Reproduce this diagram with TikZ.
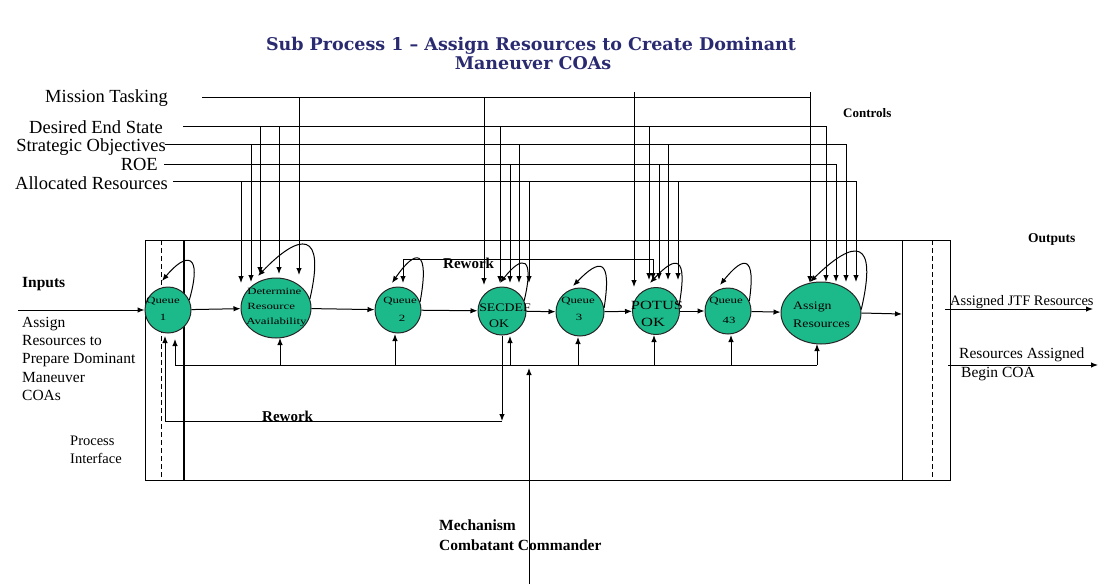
\documentclass[tikz,border=0pt]{standalone}
\usepackage{fontspec}
\setmainfont{Liberation Serif}
\newfontfamily\titlefont{DejaVu Serif}
\usetikzlibrary{arrows.meta,shapes.geometric}
\definecolor{procgreen}{RGB}{28,186,138}
\definecolor{titlenavy}{RGB}{42,42,112}
\begin{document}
\begin{tikzpicture}[x=1pt,y=-1pt,
  ln/.style={line width=1pt},
  arr/.style={line width=1pt,-{Latex[length=7pt,width=5.5pt]}},
  dsh/.style={line width=1pt,dash pattern=on 5pt off 3pt},
  proc/.style={circle,draw=black!85,fill=procgreen,line width=1pt,minimum size=46pt,inner sep=0pt},
  bigproc/.style={ellipse,draw=black!85,fill=procgreen,line width=1pt,inner sep=0pt},
  ctl/.style={font=\fontsize{18.5}{20}\selectfont,anchor=base east,inner sep=0pt},
  txt/.style={font=\fontsize{14.5}{16}\selectfont,anchor=base west,inner sep=0pt},
  txtb/.style={font=\fontsize{15.5}{17}\selectfont,anchor=base west,inner sep=0pt},
  boldlab/.style={font=\bfseries\fontsize{13}{14}\selectfont,anchor=base west,inner sep=0pt},
  boldbig/.style={font=\bfseries\fontsize{15.5}{17}\selectfont,anchor=base west,inner sep=0pt},
  ttl/.style={font=\titlefont\bfseries\fontsize{17.5}{19}\selectfont,text=titlenavy,anchor=base,inner sep=0pt},
  qlab/.style={font=\fontsize{9.5}{10}\selectfont,xscale=1.35,inner sep=0pt,anchor=base},
  dlab/.style={font=\fontsize{9.5}{10}\selectfont,xscale=1.35,inner sep=0pt,anchor=base west},
  blab/.style={font=\fontsize{11.5}{12}\selectfont,xscale=1.2,inner sep=0pt,anchor=base}
]
\useasboundingbox (0,0) rectangle (1109,584);

% title
\node[ttl] (t1) at (531,50) {Sub Process 1 – Assign Resources to Create Dominant};
\node[ttl] (t2) at (533,69) {Maneuver COAs};

% control labels
\node[ctl] (cMT) at (168,102) {Mission Tasking};
\node[ctl] (cDE) at (163,133) {Desired End State};
\node[ctl] (cSO) at (166,151) {Strategic Objectives};
\node[ctl] (cRO) at (158,170) {ROE};
\node[ctl] (cAR) at (168,189) {Allocated Resources};
\node[boldlab] (ctrl) at (843,117) {Controls};

% control lines
\coordinate (mtS) at (202,97);  \coordinate (mtE) at (810,97);
\coordinate (deS) at (183,126); \coordinate (deE) at (826,126);
\coordinate (soS) at (165,144); \coordinate (soE) at (846,144);
\coordinate (roS) at (164,164); \coordinate (roE) at (836,164);
\coordinate (arS) at (173,181); \coordinate (arE) at (856,181);
\draw[ln] (mtS) -- (mtE);
\draw[ln] (deS) -- (deE);
\draw[ln] (soS) -- (soE);
\draw[ln] (roS) -- (roE);
\draw[ln] (arS) -- (arE);
\foreach \x/\y/\t in {299/97/275, 279/126/274, 260/126/274, 251/144/282, 241/181/283,
  484/97/285, 500/126/283, 519/144/283, 510/164/283, 529/181/283,
  634/92/287, 649/126/280, 668/144/280, 659/164/280, 678/181/280,
  810/92/283, 826/126/282, 846/144/282, 836/164/282, 856/181/282}
  \draw[arr] (\x,\y) -- (\x,\t);

% main frame
\draw[ln] (145,240) rectangle (950,480);
\draw[dsh] (161,240) -- (161,480);
\draw[line width=1.3pt] (184,240) -- (184,480);
\draw[ln] (902,240) -- (902,480);
\draw[dsh] (932,240) -- (932,480);

% process nodes
\node[proc] (q1) at (168,310) {};
\node[bigproc,minimum width=70pt,minimum height=60pt] (dra) at (276,308) {};
\node[proc] (q2) at (398,310) {};
\node[proc,minimum size=48pt] (sec) at (502,311) {};
\node[proc,minimum size=48pt] (q3) at (580,312) {};
\node[proc,minimum size=47pt] (pot) at (656,311) {};
\node[proc] (q43) at (728,311) {};
\node[bigproc,minimum width=80pt,minimum height=62pt] (asg) at (821,313) {};

% node texts
\node[qlab] (q1a) at (163,303) {Queue};
\node[qlab] (q1b) at (163,320) {1};
\node[dlab] (draa) at (247,294) {Determine};
\node[dlab] (drab) at (247,309) {Resource};
\node[dlab] (drac) at (246,324) {Availability};
\node[qlab] (q2a) at (400,303) {Queue};
\node[qlab] (q2b) at (402,321) {2};
\node[blab] (seca) at (505,311) {SECDEF};
\node[blab] (secb) at (499,327) {OK};
\node[qlab] (q3a) at (578,303) {Queue};
\node[qlab] (q3b) at (579,320) {3};
\node[blab,font=\fontsize{12.5}{13}\selectfont,xscale=1.1] (pota) at (657,309) {POTUS};
\node[blab,font=\fontsize{12.5}{13}\selectfont,xscale=1.1] (potb) at (653,326) {OK};
\node[qlab] (q43a) at (726,303) {Queue};
\node[qlab] (q43b) at (729,323) {43};
\node[blab,anchor=base west] (asga) at (793,309) {Assign};
\node[blab,anchor=base west] (asgb) at (793,327) {Resources};

% inputs
\node[boldbig] (inl) at (22,287) {Inputs};
\coordinate (inS) at (18,310);
\draw[arr] (inS) -- (q1.west);
\node[txtb] (in1) at (22,327) {Assign};
\node[txtb] (in2) at (22,345) {Resources to};
\node[txtb] (in3) at (22,363) {Prepare Dominant};
\node[txtb] (in4) at (22,382) {Maneuver};
\node[txtb] (in5) at (22,400) {COAs};
\node[txt] (pi1) at (70,445) {Process};
\node[txt] (pi2) at (70,463) {Interface};

% main flow
\draw[arr] (q1) -- (dra);
\draw[arr] (dra) -- (q2);
\draw[arr] (q2) -- (sec);
\draw[arr] (sec) -- (q3);
\draw[arr] (q3) -- (pot);
\draw[arr] (pot) -- (q43);
\draw[arr] (q43) -- (asg);
\coordinate (obar) at (902,314);
\draw[arr] (asg.east) -- (obar);

% self loops
\draw[arr] (q1.25) .. controls (203,252) and (186,252) .. (162,281);
\draw[arr] (dra.15) .. controls (326,230) and (300,232) .. (258,276);
\draw[arr] (q2.20) .. controls (430,248) and (416,248) .. (392,283);
\draw[arr] (sec.25) .. controls (535,255) and (522,255) .. (500,283);
\draw[arr] (q3.10) .. controls (612,258) and (600,258) .. (573,286);
\draw[arr] (pot.15) .. controls (688,255) and (676,255) .. (650,283);
\draw[arr] (q43.25) .. controls (756,255) and (744,255) .. (720,285);
\draw[arr] (asg.5) .. controls (878,238) and (855,238) .. (810,282);

% top rework
\coordinate (rtR) at (653,259); \coordinate (rtL) at (403,259);
\draw[arr] (rtR) -- (653,280);
\draw[arr] (rtR) -- (rtL) -- (403,283);
\node[boldbig,font=\bfseries\fontsize{15}{16}\selectfont] (rwt) at (443,268) {Rework};

% bottom feedback bus
\coordinate (busL) at (175,365); \coordinate (busR) at (817,365);
\draw[ln] (busL) -- (busR);
\foreach \x/\t in {175/339, 280/338, 395/334, 510/336, 578/337, 654/335, 731/335, 817/344}
  \draw[arr] (\x,365) -- (\x,\t);

% bottom rework
\coordinate (rwA) at (502,421); \coordinate (rwB) at (165,421); \coordinate (rwC) at (165,336);
\draw[arr] (sec.south) -- (rwA);
\draw[arr] (rwA) -- (rwB) -- (rwC);
\node[boldbig,font=\bfseries\fontsize{15}{16}\selectfont] (rwl) at (262,421) {Rework};

% outputs
\node[boldlab,font=\bfseries\fontsize{13.5}{14}\selectfont] (outl) at (1028,242) {Outputs};
\coordinate (o1a) at (945,309); \coordinate (o1b) at (1093,309);
\draw[arr] (o1a) -- (o1b);
\coordinate (o2a) at (948,365); \coordinate (o2b) at (1098,365);
\draw[arr] (o2a) -- (o2b);
\node[txt] (oA) at (950,305) {Assigned JTF Resources};
\node[txtb] (oB1) at (959,358) {Resources Assigned};
\node[txtb] (oB2) at (961,377) {Begin COA};

% mechanism
\coordinate (mechS) at (529,584); \coordinate (mechT) at (529,368);
\draw[arr] (mechS) -- (mechT);
\node[boldbig] (mech1) at (439,530) {Mechanism};
\node[boldbig] (mech2) at (439,550) {Combatant Commander};
\end{tikzpicture}
\end{document}
